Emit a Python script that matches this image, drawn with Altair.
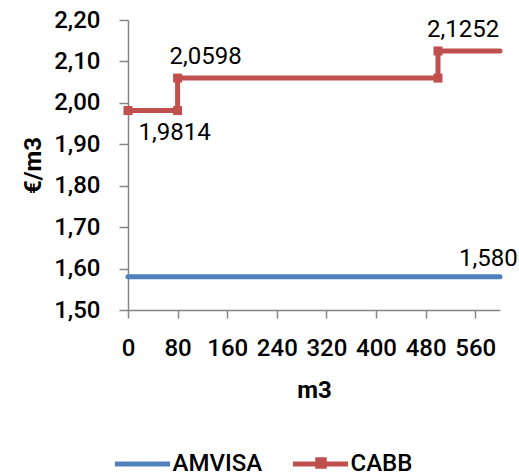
import altair as alt
import pandas as pd

series_names = ["AMVISA", "CABB"]
series_colors = ["#4F81BD", "#C0504D"]
amvisa_m3 = [0, 600]
amvisa_price = [1.58, 1.58]
cabb_m3 = [0, 80, 80, 500, 500, 600]
cabb_price = [1.9814, 1.9814, 2.0598, 2.0598, 2.1252, 2.1252]
x_ticks = [0, 80, 160, 240, 320, 400, 480, 560]
y_ticks = [1.5, 1.6, 1.7, 1.8, 1.9, 2.0, 2.1, 2.2]

rows = []
for i, (x, y) in enumerate(zip(amvisa_m3, amvisa_price)):
    rows.append({"series": "AMVISA", "m3": x, "price": y, "idx": i})
for i, (x, y) in enumerate(zip(cabb_m3, cabb_price)):
    rows.append({"series": "CABB", "m3": x, "price": y, "idx": i})
df = pd.DataFrame(rows)
df["label"] = df["price"].map(lambda v: f"{v:.4f}".replace(".", ","))

FONT = "Roboto"
GRAY = "#868686"
RED = "#C0504D"

x_enc = alt.X(
    "m3:Q",
    scale=alt.Scale(domain=[0, 600], nice=False),
    axis=alt.Axis(
        values=x_ticks, grid=False, domainColor=GRAY, tickColor=GRAY,
        domainWidth=1.5, tickWidth=1.5, tickSize=8,
        labelFont=FONT, labelFontSize=24, labelFontWeight=500, labelColor="black",
        labelPadding=18, labelFlush=False, labelOverlap=False,
        title="m3", titleFont=FONT, titleFontSize=24, titleFontWeight="bold",
        titleColor="black", titleBaseline="alphabetic", titleY=87,
    ),
)
y_enc = alt.Y(
    "price:Q",
    scale=alt.Scale(domain=[1.5, 2.2], nice=False, zero=False),
    axis=alt.Axis(
        values=y_ticks, grid=False, domainColor=GRAY, tickColor=GRAY,
        domainWidth=1.5, tickWidth=1.5, tickSize=9,
        labelExpr="replace(format(datum.value, '.2f'), '.', ',')",
        labelFont=FONT, labelFontSize=24, labelFontWeight=500, labelColor="black",
        labelPadding=19, labelFlush=False, labelOverlap=False,
        title="€/m3", titleFont=FONT, titleFontSize=24, titleFontWeight="bold",
        titleColor="black", titleBaseline="alphabetic", titleAngle=270,
        titleX=-88, titleY=145,
    ),
)

base = alt.Chart(df).encode(x=x_enc, y=y_enc)

lines = base.mark_line(strokeWidth=5, strokeCap="round").encode(
    color=alt.Color(
        "series:N",
        scale=alt.Scale(domain=series_names, range=series_colors),
        legend=alt.Legend(
            orient="none", legendX=-15.5, legendY=414, direction="horizontal",
            title=None, symbolType="stroke", symbolSize=3025, symbolStrokeWidth=5,
            labelFont=FONT, labelFontSize=24, labelFontWeight=500, labelColor="black",
            labelOffset=0, columnPadding=20, padding=0,
        ),
    ),
    order="idx:Q",
)

square_symbol = "M-0.1,-0.1H0.1V0.1H-0.1Z"
markers = base.mark_point(
    size=8100, filled=True, opacity=1, fill=RED, stroke=RED
).encode(
    shape=alt.Shape(
        "series:N",
        scale=alt.Scale(domain=["CABB"], range=[square_symbol]),
        legend=alt.Legend(
            orient="none", legendX=142, legendY=392, title=None,
            symbolSize=10000, symbolFillColor=RED, labelExpr="''", padding=0,
        ),
    ),
    strokeWidth=alt.value(0),
).transform_filter("datum.series == 'CABB' && datum.m3 < 600")

def label_layer(flt, **kw):
    return base.mark_text(font=FONT, fontSize=24, color="black", baseline="alphabetic", **kw).encode(
        text="label:N"
    ).transform_filter(flt)

t1 = label_layer("datum.series == 'CABB' && datum.idx == 1", align="center", dx=-3, dy=29.5)
t2 = label_layer("datum.series == 'CABB' && datum.idx == 2", align="left", dx=-8, dy=-14)
t3 = label_layer("datum.series == 'CABB' && datum.idx == 4", align="left", dx=-11, dy=-14)
t4 = label_layer("datum.series == 'AMVISA' && datum.idx == 1", align="left", dx=-41, dy=-11)

chart = alt.layer(lines, markers, t1, t2, t3, t4).resolve_scale(
    color="independent", shape="independent"
).resolve_legend(color="independent", shape="independent").properties(
    width=372, height=290,
    padding={"left": 128, "top": 20, "right": 19, "bottom": 166},
    autosize=alt.AutoSizeParams(type="none"),
).configure_view(stroke=None)

chart.save("out.html", embed_options={"renderer": "svg", "actions": False})
